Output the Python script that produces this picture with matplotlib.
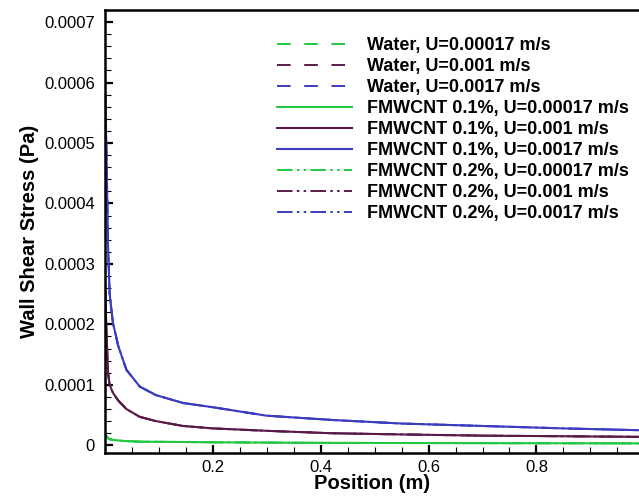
import matplotlib
matplotlib.use("Agg")
import matplotlib.pyplot as plt
from matplotlib.ticker import MultipleLocator

plt.rcParams['font.family'] = ['Liberation Sans', 'DejaVu Sans']

# position along the wall (m)
pos = [0.0, 0.001, 0.003, 0.006, 0.009, 0.015, 0.025, 0.04, 0.065, 0.095, 0.145,
       0.2, 0.3, 0.42, 0.55, 0.7, 0.85, 0.99]

# wall shear stress (Pa)
tau_low = [0.000022, 0.000019, 0.000015, 0.000012, 0.00001, 0.000009, 0.000008,
           0.000007, 0.000006, 0.0000058, 0.0000055, 0.000005, 0.0000045, 0.000004,
           0.0000038, 0.0000036, 0.0000034, 0.0000032]
tau_mid = [0.0003, 0.00025, 0.00019, 0.00012, 0.0001, 0.000087, 0.000074, 0.00006,
           0.000047, 0.00004, 0.000032, 0.000028, 0.000024, 0.00002, 0.000018,
           0.000016, 0.000015, 0.000014]
tau_high = [0.00063, 0.00056, 0.00049, 0.00033, 0.00025, 0.000203, 0.000164,
            0.000125, 0.000097, 0.000083, 0.00007, 0.000063, 0.000049, 0.000042,
            0.000036, 0.000032, 0.000028, 0.000025]

labels = ['Water, U=0.00017 m/s', 'Water, U=0.001 m/s', 'Water, U=0.0017 m/s',
          'FMWCNT 0.1%, U=0.00017 m/s', 'FMWCNT 0.1%, U=0.001 m/s',
          'FMWCNT 0.1%, U=0.0017 m/s', 'FMWCNT 0.2%, U=0.00017 m/s',
          'FMWCNT 0.2%, U=0.001 m/s', 'FMWCNT 0.2%, U=0.0017 m/s']

green = '#22c844'
purple = '#5a1a48'
blue = '#3c3cc0'

fig = plt.figure(figsize=(6.39, 4.98), dpi=100)
ax = fig.add_axes([0.164, 0.090, 0.836, 0.890])

series = [tau_low, tau_mid, tau_high]
colors = [green, purple, blue]
styles = [(0, (7, 7)), '-', (0, (8, 2.2, 1.3, 2.2, 1.3, 2.2))]
widths = [1.4, 1.5, 1.4]

for k in range(3):
    for j in range(3):
        ax.plot(pos, series[j], color=colors[j], linestyle=styles[k],
                lw=widths[k], label=labels[k * 3 + j])

ax.set_xlim(0, 0.99)
ax.set_ylim(-0.000013, 0.00072)
ax.set_xticks([0.2, 0.4, 0.6, 0.8])
ax.set_yticks([0, 0.0001, 0.0002, 0.0003, 0.0004, 0.0005, 0.0006, 0.0007])
ax.set_yticklabels(['0', '0.0001', '0.0002', '0.0003', '0.0004', '0.0005',
                    '0.0006', '0.0007'])
ax.xaxis.set_minor_locator(MultipleLocator(0.05))
ax.yaxis.set_minor_locator(MultipleLocator(0.00002))
ax.tick_params(which='major', direction='in', length=6, width=1.6, labelsize=12)
ax.tick_params(which='minor', direction='in', length=4, width=0.8)
ax.tick_params(axis='x', pad=5)
ax.tick_params(axis='y', pad=7)
ax.spines['right'].set_visible(False)
for s in ['left', 'bottom', 'top']:
    ax.spines[s].set_linewidth(1.8)

ax.set_xlabel('Position (m)', fontsize=14.5, fontweight='bold', labelpad=-1)
ax.set_ylabel('Wall Shear Stress (Pa)', fontsize=14.5, fontweight='bold', labelpad=4)

ax.legend(loc='upper right', bbox_to_anchor=(1.011, 0.975), frameon=False,
          prop={'size': 13, 'weight': 'bold'}, handlelength=4.15,
          labelspacing=0.22, handletextpad=0.8)

fig.savefig('out.png', dpi=100)
